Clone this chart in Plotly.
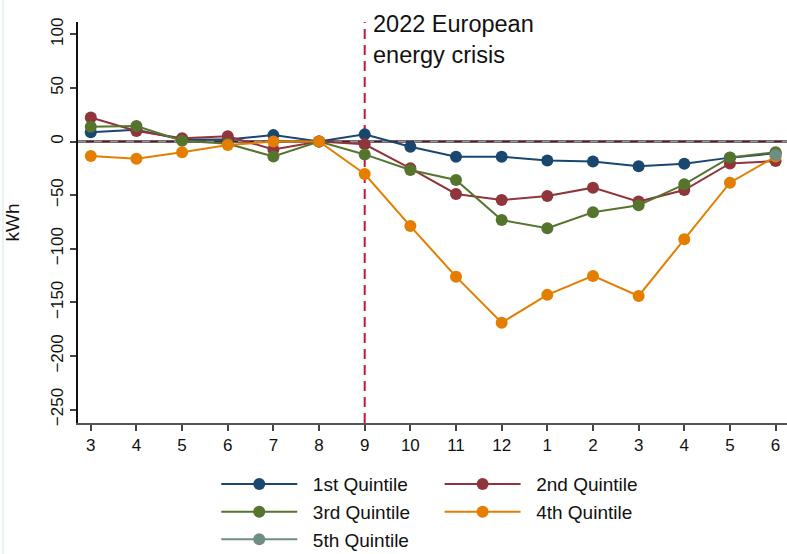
import plotly.graph_objects as go

# Month labels along the x axis (March of one year through June of the next)
months = ["3", "4", "5", "6", "7", "8", "9", "10", "11", "12", "1", "2", "3", "4", "5", "6"]

# Change in consumption (kWh) by consumption quintile
q1 = [8.6, 11, 2, 2, 6, 0, 6.7, -4.8, -14.1, -14.1, -17.6, -18.5, -23.1, -20.7, -15, -11]
q2 = [22.5, 9.8, 3, 5, -7.3, 0, -2.6, -25, -48.9, -54.5, -50.8, -43, -56, -45.2, -20.4, -18.2]
q3 = [13.8, 14.4, 0.8, -2, -14, 0, -12, -26.6, -35.9, -73.2, -80.9, -66, -59.5, -39.9, -14.8, -10]
q4 = [-13.5, -16, -10, -3.3, 0, 0, -30.3, -78.8, -126, -168.9, -143, -125.3, -144, -91.2, -38.4, -14]
q5 = [None] * 15 + [-12.6]

names = ["1st Quintile", "2nd Quintile", "3rd Quintile", "4th Quintile", "5th Quintile"]
colors = ["#1a476f", "#90353b", "#55752f", "#e37e00", "#6e8e84"]
series = [q1, q2, q3, q4, q5]
legend_ids = ["legend", "legend2", "legend", "legend2", "legend"]

crisis_idx = 6  # September 2022
xs = list(range(len(months)))
PAD = "\u00a0\u00a0"  # small gap between legend symbol and label

fig = go.Figure()

# zero reference line (solid dark with a dashed grey overlay)
fig.add_shape(type="line", xref="paper", x0=0, x1=1, yref="y", y0=0, y1=0,
              line=dict(color="#4b1f2a", width=2.5), layer="below")
fig.add_shape(type="line", xref="paper", x0=0, x1=1, yref="y", y0=0, y1=0,
              line=dict(color="#8f9a98", width=1.5, dash="8px,8px"), layer="below")

# event marker
fig.add_shape(type="line", xref="x", x0=crisis_idx, x1=crisis_idx, yref="paper", y0=0, y1=1,
              line=dict(color="#c8143c", width=2, dash="10px,6px"), layer="below")

for name, vals, col, lg in zip(names, series, colors, legend_ids):
    fig.add_trace(go.Scatter(
        x=xs, y=vals, name=PAD + name, mode="lines+markers",
        line=dict(color=col, width=2),
        marker=dict(color=col, size=12),
        legend=lg, legendgroup=name,
    ))

fig.add_annotation(
    x=crisis_idx, y=95, xref="x", yref="y", xanchor="left", yanchor="middle",
    xshift=6, text="2022 European<br>energy crisis", showarrow=False, align="left",
    font=dict(family="Liberation Sans, Arial", size=23.5, color="#111111"),
)

# faint outer frame edge
fig.add_shape(type="line", xref="paper", yref="paper", x0=-0.1058, x1=-0.1058, y0=-0.33, y1=1.06,
              line=dict(color="#e3f0f0", width=1.5))

legend_common = dict(
    orientation="v", yanchor="top", xanchor="left", y=-0.105,
    font=dict(family="Liberation Sans, Arial", size=19, color="#111111"),
    itemwidth=76, tracegroupgap=0, bgcolor="rgba(0,0,0,0)",
)

fig.update_layout(
    width=787, height=554,
    margin=dict(l=78, r=0, t=22, b=131, autoexpand=False),
    paper_bgcolor="white", plot_bgcolor="white",
    font=dict(family="Liberation Sans, Arial", color="#111111"),
    legend=dict(x=0.195, **legend_common),
    legend2=dict(x=0.51, **legend_common),
    xaxis=dict(
        range=[-0.28, 15.25], tickmode="array", tickvals=xs, ticktext=months,
        showline=True, linecolor="#555555", linewidth=2,
        ticks="outside", ticklen=6, tickcolor="#444444", tickwidth=1.5,
        showgrid=False, zeroline=False,
        tickfont=dict(size=17, color="#111111"),
    ),
    yaxis=dict(
        range=[-262.5, 111.5], tickmode="array",
        tickvals=[-250, -200, -150, -100, -50, 0, 50, 100],
        showline=True, linecolor="#111111", linewidth=1.5,
        ticks="outside", ticklen=6, tickcolor="#444444", tickwidth=1.5,
        showgrid=False, zeroline=False, tickangle=-90,
        tickfont=dict(size=17, color="#111111"),
        title=dict(text="kWh", font=dict(size=19, color="#111111"), standoff=24),
    ),
)

fig.write_html("out.html")
